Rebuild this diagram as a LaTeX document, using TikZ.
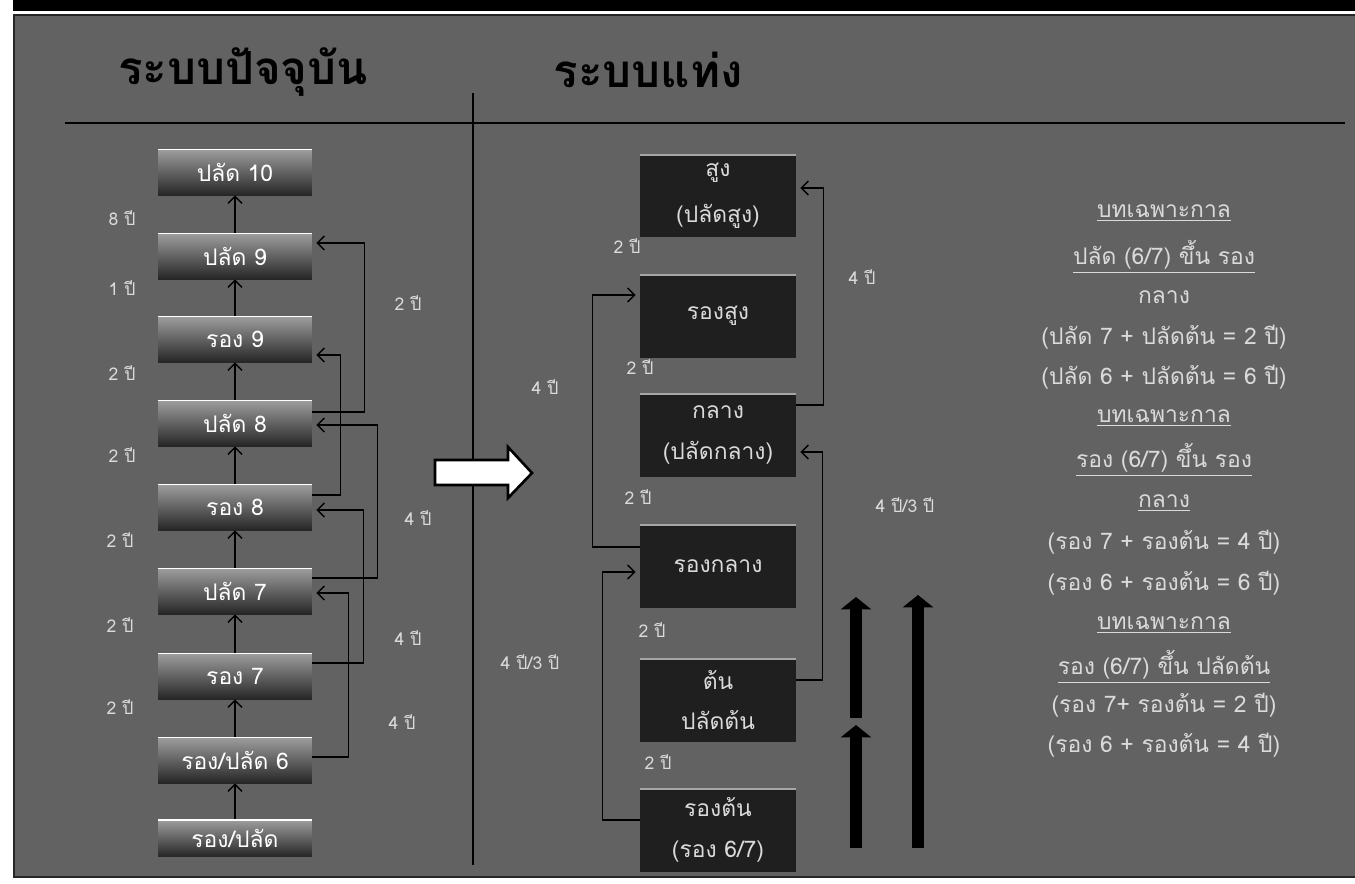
\documentclass[tikz,border=0pt]{standalone}
\usepackage{fontspec}
\setmainfont[Script=Thai]{Loma}
\usetikzlibrary{positioning, calc, arrows.meta}

\definecolor{panelgray}{RGB}{98,98,98}
\definecolor{lighttext}{RGB}{218,218,218}

\begin{document}
\begin{tikzpicture}[x=0.02cm, y=-0.02cm,
  oldbox/.style={rectangle, minimum width=3.08cm, minimum height=0.92cm, inner sep=0pt,
    top color=black!38, bottom color=black!85, text=white, font=\fontsize{13}{15}\selectfont,
    path picture={\draw[white, line width=1.6pt] (path picture bounding box.north west) -- (path picture bounding box.north east);}},
  newbox/.style={rectangle, minimum width=3.12cm, minimum height=1.66cm, inner sep=0pt, align=center,
    fill=black!88, text=lighttext, font=\fontsize{13}{23}\selectfont,
    path picture={\draw[gray!70, line width=1.4pt] (path picture bounding box.north west) -- (path picture bounding box.north east);}},
  yr/.style={text=lighttext, font=\fontsize{10}{12}\selectfont},
  note/.style={text=lighttext, font=\fontsize{13}{15}\selectfont},
  heading/.style={text=black, font=\fontsize{26}{30}\selectfont\bfseries},
  conn/.style={black, line width=0.8pt, -{Straight Barb[length=4pt, width=8pt]}},
  bigup/.style={black, line width=7pt, -{Triangle[length=7pt, width=17pt]}}]
  \useasboundingbox (0,0) rectangle (1355,883);
  \fill[white] (0,0) rectangle (1355,883);
  \fill[black] (13,0) rectangle (1355,11);
  \fill[panelgray] (13,14) rectangle (1355,877);
  \draw[black!85, line width=1pt] (14,15) rectangle (1362,877);
  \draw[black, line width=0.8pt] (65,123) -- (1345,123);
  \draw[black, line width=0.8pt] (473,93) -- (473,865);

  \node[heading] (titleold) at (243,72) {ระบบปัจจุบัน};
  \node[heading] (titlenew) at (648,70) {ระบบแท่ง};

  \node[oldbox] (plad10) at (235,172) {ปลัด 10};
  \node[oldbox] (plad9) at (235,256) {ปลัด 9};
  \node[oldbox] (rong9) at (235,339) {รอง 9};
  \node[oldbox] (plad8) at (235,423) {ปลัด 8};
  \node[oldbox] (rong8) at (235,507) {รอง 8};
  \node[oldbox] (plad7) at (235,591) {ปลัด 7};
  \node[oldbox] (rong7) at (235,676) {รอง 7};
  \node[oldbox] (rp6) at (235,760) {รอง/ปลัด 6};
  \node[oldbox, minimum height=0.74cm] (rp) at (235,838) {รอง/ปลัด};

  \draw[conn] (plad9.north) -- (plad10.south);
  \draw[conn] (rong9.north) -- (plad9.south);
  \draw[conn] (plad8.north) -- (rong9.south);
  \draw[conn] (rong8.north) -- (plad8.south);
  \draw[conn] (plad7.north) -- (rong8.south);
  \draw[conn] (rong7.north) -- (plad7.south);
  \draw[conn] (rp6.north) -- (rong7.south);
  \draw[conn] (rp.north) -- (rp6.south);

  \draw[conn] ($(plad8.east)+(0,-11)$) -- ++(52,0) |- ($(plad9.east)+(4,-13)$);
  \draw[conn] ($(rong8.east)+(0,-12)$) -- ++(28,0) |- ($(rong9.east)+(4,16)$);
  \draw[conn] ($(plad7.east)+(0,-13)$) -- ++(65,0) |- ($(plad8.east)+(4,2)$);
  \draw[conn] ($(rong7.east)+(0,-13)$) -- ++(51,0) |- ($(rong8.east)+(4,3)$);
  \draw[conn] ($(rp6.east)+(0,-3)$) -- ++(36,0) |- ($(plad7.east)+(4,2)$);

  \node[yr] (y1) at (122,218) {8 ปี};
  \node[yr] (y2) at (122,288) {1 ปี};
  \node[yr] (y3) at (122,373) {2 ปี};
  \node[yr] (y4) at (122,455) {2 ปี};
  \node[yr] (y5) at (120,540) {2 ปี};
  \node[yr] (y6) at (120,625) {2 ปี};
  \node[yr] (y7) at (120,707) {2 ปี};
  \node[yr] (y8) at (408,303) {2 ปี};
  \node[yr] (y9) at (418,518) {4 ปี};
  \node[yr] (y10) at (408,638) {4 ปี};
  \node[yr] (y11) at (402,722) {4 ปี};

  \draw[fill=white, line width=1.5pt] (435,460) -- (508,460) -- (508,447) -- (532,473)
    -- (508,498) -- (508,485) -- (435,485) -- cycle;

  \node[newbox] (sung) at (718,196) {สูง\\[3pt](ปลัดสูง)};
  \node[newbox] (rongsung) at (718,316) {รองสูง};
  \node[newbox] (klang) at (718,435) {กลาง\\(ปลัดกลาง)};
  \node[newbox] (rongklang) at (718,566) {รองกลาง};
  \node[newbox] (ton) at (718,700) {ต้น\\ปลัดต้น};
  \node[newbox] (rongton) at (718,830) {รองต้น\\(รอง 6/7)};

  \draw[conn] ($(klang.east)+(0,-30)$) -- ++(27,0) |- ($(sung.east)+(4,-8)$);
  \draw[conn] ($(ton.east)+(0,-20)$) -- ++(26,0) |- ($(klang.east)+(4,17)$);
  \draw[conn] ($(rongklang.west)+(0,-19)$) -- ++(-47,0) |- ($(rongsung.west)+(-4,-21)$);
  \draw[conn] ($(rongton.west)+(0,-10)$) -- ++(-37,0) |- ($(rongklang.west)+(-4,6)$);

  \node[yr] (z1) at (627,246) {2 ปี};
  \node[yr] (z2) at (640,367) {2 ปี};
  \node[yr] (z3) at (638,497) {2 ปี};
  \node[yr] (z4) at (652,630) {2 ปี};
  \node[yr] (z5) at (658,762) {2 ปี};
  \node[yr] (z6) at (862,277) {4 ปี};
  \node[yr] (z7) at (905,505) {4 ปี/3 ปี};
  \node[yr] (z8) at (545,387) {4 ปี};
  \node[yr] (z9) at (530,662) {4 ปี/3 ปี};

  \draw[bigup] (856,718) -- (856,597);
  \draw[bigup] (856,848) -- (856,725);
  \draw[bigup] (918,848) -- (918,595);

  \node[note] (n1) at (1164,213) {\underline{บทเฉพาะกาล}};
  \node[note] (n2) at (1164,257) {\underline{ปลัด (6/7) ขึ้น รอง}};
  \node[note] (n3) at (1164,297) {กลาง};
  \node[note] (n4) at (1164,337) {(ปลัด 7 + ปลัดต้น = 2 ปี)};
  \node[note] (n5) at (1164,377) {(ปลัด 6 + ปลัดต้น = 6 ปี)};
  \node[note] (n6) at (1164,418) {\underline{บทเฉพาะกาล}};
  \node[note] (n7) at (1164,460) {\underline{รอง (6/7) ขึ้น รอง}};
  \node[note] (n8) at (1164,503) {\underline{กลาง}};
  \node[note] (n9) at (1164,542) {(รอง 7 + รองต้น = 4 ปี)};
  \node[note] (n10) at (1164,583) {(รอง 6 + รองต้น = 6 ปี)};
  \node[note] (n11) at (1164,625) {\underline{บทเฉพาะกาล}};
  \node[note] (n12) at (1164,667) {\underline{รอง (6/7) ขึ้น ปลัดต้น}};
  \node[note] (n13) at (1164,705) {(รอง 7+ รองต้น = 2 ปี)};
  \node[note] (n14) at (1164,745) {(รอง 6 + รองต้น = 4 ปี)};
\end{tikzpicture}
\end{document}
